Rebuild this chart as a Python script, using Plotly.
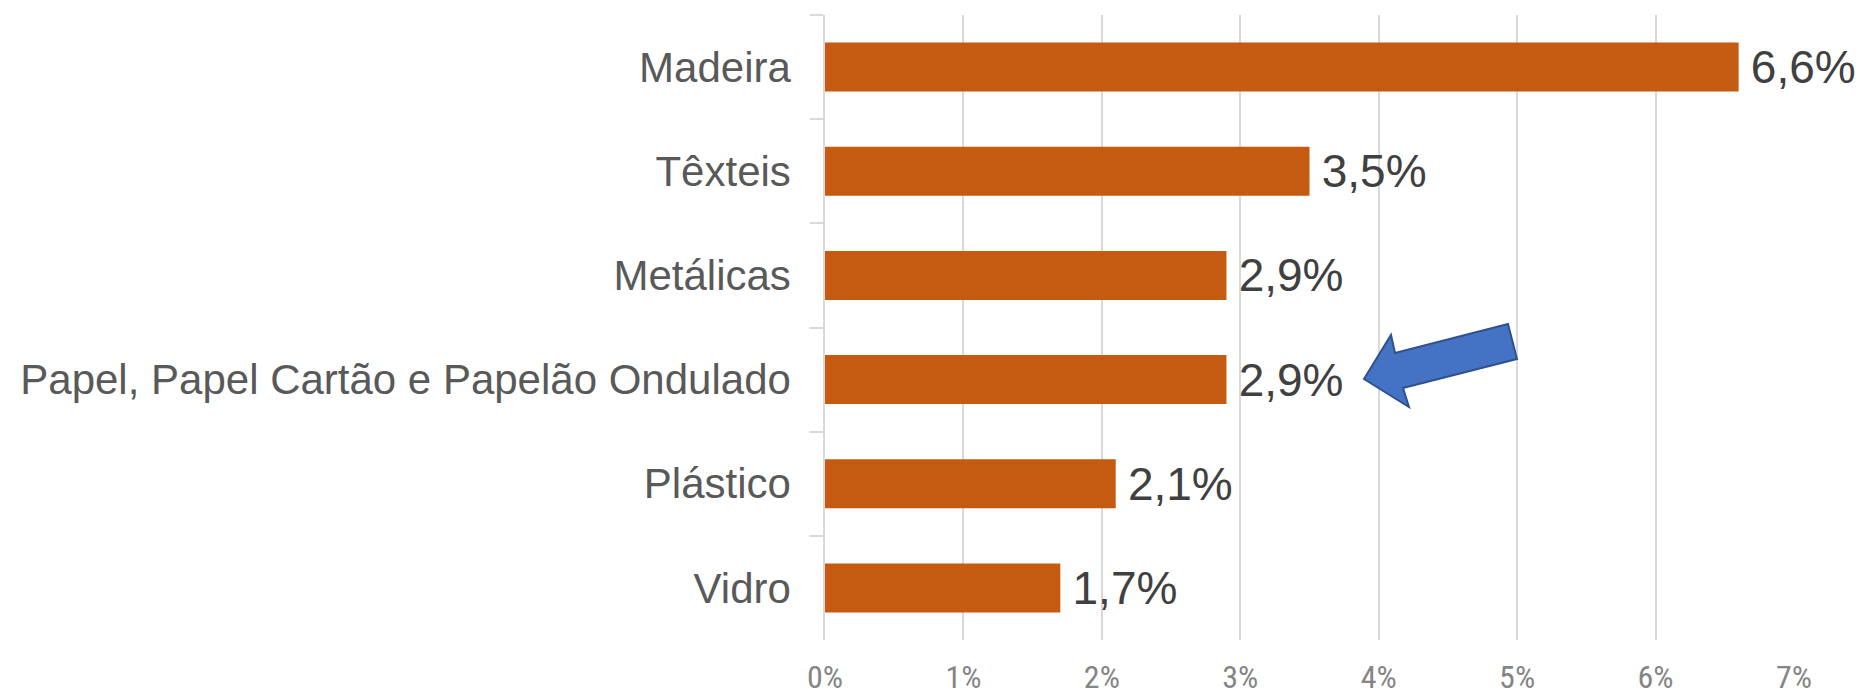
import plotly.graph_objects as go

categories = ["Madeira", "Têxteis", "Metálicas", "Papel, Papel Cartão e Papelão Ondulado", "Plástico", "Vidro"]
values = [0.066, 0.035, 0.029, 0.029, 0.021, 0.017]
x_ticks = [0, 0.01, 0.02, 0.03, 0.04, 0.05, 0.06, 0.07]

W, H = 1863, 696
ML, MR, MT, MB = 825, 69, 15, 56
PW, PH = W - ML - MR, H - MT - MB

fig = go.Figure()
fig.add_trace(go.Bar(
    y=categories, x=values, orientation="h",
    marker=dict(color="#C55A11", line=dict(width=0)),
    texttemplate="\u2009%{x:.1%}", textposition="outside",
    textfont=dict(family="Liberation Sans, Arial, sans-serif", size=46, color="#404040"),
    constraintext="none", cliponaxis=False, hoverinfo="skip",
))

# decorative block arrow (pixel coordinates of the picture, converted to paper)
arrow_px = [(1364, 379), (1391, 335), (1395, 353), (1508, 324), (1517, 359), (1403, 388), (1409, 407)]
def to_paper(p):
    return ((p[0] - ML) / PW, (H - MB - p[1]) / PH)
pts = [to_paper(p) for p in arrow_px]
path = "M " + " L ".join(f"{x:.5f},{y:.5f}" for x, y in pts) + " Z"
fig.add_shape(type="path", xref="paper", yref="paper", path=path,
              fillcolor="#4472C4", line=dict(color="#2F528F", width=2), layer="above")

fig.update_layout(
    width=W, height=H,
    margin=dict(l=ML, r=MR, t=MT, b=MB, pad=0, autoexpand=False),
    paper_bgcolor="white", plot_bgcolor="white",
    separators=",.",
    bargap=0.53, showlegend=False,
    font=dict(family="Liberation Sans, Arial, sans-serif"),
)
fig.update_xaxes(
    range=[0, 0.07], tickvals=x_ticks, tickformat=".0%",
    showgrid=True, gridcolor="#D9D9D9", gridwidth=1.5,
    zeroline=False, showline=False, automargin=False,
    ticks="outside", ticklen=9, tickcolor="rgba(0,0,0,0)",
    tickfont=dict(family="Liberation Sans Narrow, Roboto Condensed, Arial Narrow, sans-serif", size=32, color="#858585"),
    fixedrange=True,
)
fig.update_yaxes(
    autorange="reversed", type="category", automargin=False,
    showline=True, linecolor="#D9D9D9", linewidth=1.5,
    ticks="outside", tickson="boundaries", ticklen=13, tickcolor="#D9D9D9", tickwidth=1.5,
    showgrid=False,
    ticklabelstandoff=24,
    tickfont=dict(family="Liberation Sans, Arial, sans-serif", size=42, color="#595959"),
    fixedrange=True,
)

fig.write_html(
    "out.html",
    config={"displayModeBar": False},
    post_script="document.body.style.margin='0';document.body.style.overflow='hidden';",
)
